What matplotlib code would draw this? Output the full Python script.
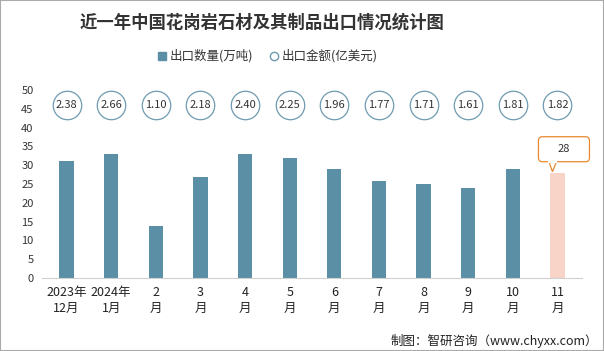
import matplotlib.pyplot as plt
from matplotlib.patches import FancyBboxPatch, Polygon
from matplotlib.lines import Line2D
from matplotlib.transforms import Affine2D, ScaledTranslation

plt.rcParams['font.family'] = ['Noto Sans CJK SC', 'DejaVu Sans']

months = ["2023年\n12月", "2024年\n1月", "2\n月", "3\n月", "4\n月", "5\n月",
          "6\n月", "7\n月", "8\n月", "9\n月", "10\n月", "11\n月"]
volume = [31, 33, 13.8, 26.9, 33, 31.9, 29, 25.8, 25, 23.9, 29, 28]
amount = [2.38, 2.66, 1.10, 2.18, 2.40, 2.25, 1.96, 1.77, 1.71, 1.61, 1.81, 1.82]

bar_color = "#5b8fa6"
last_color = "#f8d3c8"
orange = "#e8892f"

fig = plt.figure(figsize=(6.04, 3.51), dpi=100)
ax = fig.add_axes([42 / 604, 1 - 278 / 351, 540 / 604, 188 / 351])

x = list(range(len(months)))
colors = [bar_color] * (len(months) - 1) + [last_color]
ax.bar(x, volume, width=0.32, color=colors, zorder=2)

# circles with amount
circle_y = [46] * len(x)
ax.scatter(x, circle_y, s=420, facecolor="white", edgecolor="#6e9bb0", linewidth=0.9, zorder=3, clip_on=False)
for xi, v in zip(x, amount):
    ax.text(xi, 46, f"{v:.2f}", ha="center", va="center", fontsize=8, color="#333333", zorder=4)

ax.set_xlim(-0.55, len(x) - 0.45)
ax.set_ylim(0, 50)
ax.set_yticks(range(0, 51, 5))
ax.tick_params(axis="y", length=0, labelsize=8, colors="#333333", pad=6)
ax.set_xticks(x)
ax.set_xticklabels(months, fontsize=9, color="#222222", linespacing=1.3)
ax.tick_params(axis="x", length=0, pad=6)
for s in ["top", "right", "left"]:
    ax.spines[s].set_visible(False)
ax.spines["bottom"].set_color("#d0d0d0")

# callout for the last bar, shape given in pixel offsets from the bar top
lx, ly = x[-1], volume[-1]
px = Affine2D().scale(1 / 100) + fig.dpi_scale_trans + ScaledTranslation(lx, ly, ax.transData)
box = FancyBboxPatch((-19, 11), 51, 25, boxstyle="round,pad=0,rounding_size=4",
                     facecolor="white", edgecolor=orange, linewidth=0.9, zorder=5,
                     clip_on=False, transform=px)
ax.add_patch(box)
ptr = Polygon([(-8.5, 11), (-1, 11), (-5, 1)], closed=True, facecolor="white",
              edgecolor=orange, linewidth=0.9, zorder=5, clip_on=False, transform=px)
ax.add_patch(ptr)
ax.add_line(Line2D([-8, -1.5], [11, 11], color="white", linewidth=1.5, zorder=6,
                   clip_on=False, transform=px))
ax.text(6, 24, f"{ly:g}", ha="center", va="center", fontsize=8, color="#333333",
        zorder=7, transform=px)

fig.text(0.434, 0.935, "近一年中国花岗岩石材及其制品出口情况统计图", ha="center", va="center",
         fontsize=12.5, fontweight="bold", color="#333333")

handles = [Line2D([], [], marker="s", linestyle="", color=bar_color, markersize=6),
           Line2D([], [], marker="o", linestyle="", markerfacecolor="white",
                  markeredgecolor="#6e9bb0", markersize=6)]
fig.legend(handles, ["出口数量(万吨)", "出口金额(亿美元)"], loc="center", bbox_to_anchor=(0.442, 0.84),
           ncol=2, frameon=False, fontsize=9, handletextpad=0.1, columnspacing=1.2,
           handlelength=1.0, labelcolor="#333333")

fig.text(0.99, 0.03, "制图：智研咨询（www.chyxx.com）", ha="right", va="center", fontsize=9, color="#222222")

border = plt.Rectangle((0, 0), 1, 1, transform=fig.transFigure, fill=False, edgecolor="#aaaaaa", linewidth=1.5)
fig.patches.append(border)

fig.savefig("out.png", dpi=100)
